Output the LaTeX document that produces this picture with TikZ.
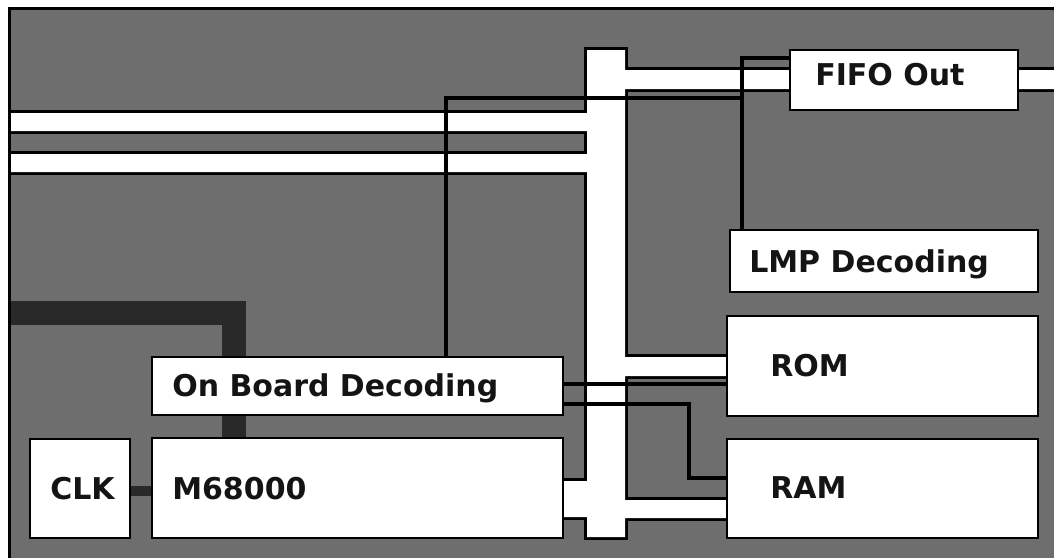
\documentclass[tikz,border=0pt]{standalone}
\usepackage{fontspec}
\setmainfont{DejaVu Sans}
\usetikzlibrary{fit}
\pgfdeclarelayer{board}
\pgfdeclarelayer{under}
\pgfdeclarelayer{front}
\pgfsetlayers{board,under,main,front}
\definecolor{boardgray}{gray}{0.43}
\definecolor{deep}{gray}{0.16}
\begin{document}
\begin{tikzpicture}[x=0.75pt,y=-0.75pt,
  box/.style={draw=black,fill=white,line width=1.9pt,inner sep=0pt,outer sep=0pt},
  wire/.style={draw=black,line width=2.6pt,line join=miter},
  thickwire/.style={draw=deep,line width=17.5pt,line join=miter},
  clkwire/.style={draw=deep,line width=7.5pt},
  lbl/.style={font=\fontsize{22.5}{27}\selectfont\bfseries,anchor=base west,inner sep=0pt,text=black!92}
]
\useasboundingbox (0,0) rectangle (1054,558);
\clip (0,0) rectangle (1054,558);

% boxes
\node[box,fit={(790,50) (1018,110)}] (fifo) {};
\node[box,fit={(730,230) (1038,292)}] (lmp) {};
\node[box,fit={(727,316) (1038,416)}] (rom) {};
\node[box,fit={(727,439) (1038,538)}] (ram) {};
\node[box,fit={(152,357) (563,415)}] (obd) {};
\node[box,fit={(30,439) (130,538)}] (clk) {};
\node[box,fit={(152,438) (563,538)}] (cpu) {};

% labels
\node[lbl] (fifoT) at (815,85) {FIFO Out};
\node[lbl] (lmpT) at (749,272) {LMP Decoding};
\node[lbl] (romT) at (770,376) {ROM};
\node[lbl] (ramT) at (770,498) {RAM};
\node[lbl] (obdT) at (172,396) {On Board Decoding};
\node[lbl] (clkT) at (50,499) {CLK};
\node[lbl] (cpuT) at (172,499) {M68000};

\begin{pgfonlayer}{board}
\fill[white] (0,0) rectangle (1054,558);
\fill[boardgray] (8,7) rectangle (1054,558);
\end{pgfonlayer}

\begin{pgfonlayer}{under}
\coordinate (busTL) at (587,50);
\coordinate (busBR) at (625,537);
\path[fill=white, preaction={draw=black,line width=3.8pt}]
  (busTL) rectangle (busBR)
  (11,113) rectangle (busTL |- 0,131)
  (11,154) rectangle (busTL |- 0,172)
  (busBR |- 0,70) rectangle (fifo.west |- 0,89)
  (fifo.east |- 0,70) rectangle (1070,89)
  (busBR |- 0,357) rectangle (rom.west |- 0,376)
  (busBR |- 0,500) rectangle (ram.west |- 0,518)
  (cpu.east |- 0,481) rectangle (busTL |- 0,517);
\coordinate (j1) at (446,98);
\coordinate (j2) at (742,98);
\coordinate (j3) at (742,58);
\draw[wire] (obd.north -| j1) -- (j1) -- (j2);
\draw[wire] (fifo.west |- j3) -- (j3) -- (lmp.north -| j3);
\coordinate (k1) at (600,384);
\draw[wire] (obd.east |- k1) -- (rom.west |- k1);
\coordinate (k2) at (689,404);
\coordinate (k3) at (689,478);
\draw[wire] (obd.east |- k2) -- (k2) -- (k3) -- (ram.west |- k3);
\coordinate (d0) at (8,313);
\coordinate (d1) at (234,313);
\draw[thickwire] (d0) -- (d1) -- (obd.north -| d1);
\draw[thickwire] (obd.south -| d1) -- (cpu.north -| d1);
\coordinate (c1) at (140,491);
\draw[clkwire] (clk.east |- c1) -- (cpu.west |- c1);
\end{pgfonlayer}

\begin{pgfonlayer}{front}
\coordinate (fr0) at (9.5,558);
\coordinate (fr1) at (9.5,8.5);
\coordinate (fr2) at (1054,8.5);
\draw[line width=2.4pt] (fr0) -- (fr1) -- (fr2);
\end{pgfonlayer}
\end{tikzpicture}
\end{document}
